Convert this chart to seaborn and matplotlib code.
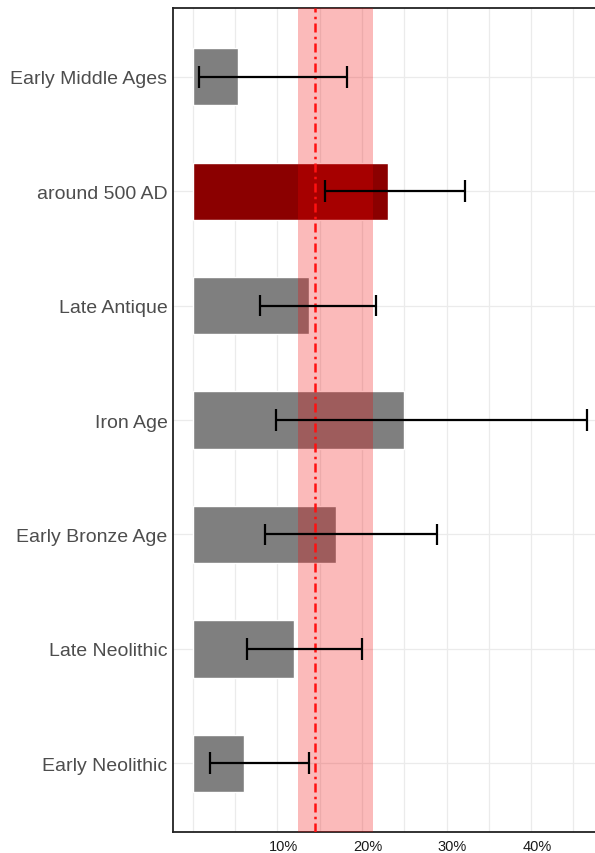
import matplotlib
matplotlib.use("Agg")
import matplotlib.pyplot as plt
import matplotlib.transforms as mtransforms
from matplotlib.ticker import FixedLocator, MultipleLocator
import numpy as np
import pandas as pd
import seaborn as sns

# Periods, top to bottom
periods = ["Early Middle Ages", "around 500 AD", "Late Antique", "Iron Age",
           "Early Bronze Age", "Late Neolithic", "Early Neolithic"]
# Estimated share (%) and its confidence interval
share = [5.4, 23.1, 13.7, 25.0, 16.9, 12.0, 6.1]
ci_low = [0.7, 15.6, 8.0, 9.8, 8.5, 6.4, 2.0]
ci_high = [18.2, 32.2, 21.7, 46.6, 28.9, 20.0, 13.7]
highlight = ["around 500 AD"]

# Reference level and its range
ref_mean = 14.4
ref_low = 12.4
ref_high = 21.3

x_ticks = [0, 10, 20, 30, 40]
x_tick_labels = ["", "10%", "20%", "30%", "40%"]

df = pd.DataFrame({"period": periods, "share": share,
                   "lo": ci_low, "hi": ci_high})
palette = {p: ("#8b0000" if p in highlight else "#7f7f7f") for p in periods}

sns.set_theme(style="white")
plt.rcParams["font.family"] = ["Liberation Sans", "DejaVu Sans"]

fig = plt.figure(figsize=(5.95, 8.54), dpi=100)
W, H = 595, 854
left_px, right_px, top_px, bottom_px = 173, 600, 9, 833
ax = fig.add_axes([left_px / W, 1 - bottom_px / H,
                   (right_px - left_px) / W, (bottom_px - top_px) / H])

sns.barplot(data=df, y="period", x="share", hue="period", palette=palette,
            order=periods, orient="h", width=0.5, legend=False,
            saturation=1, ax=ax, zorder=2, errorbar=None)

# reference range and mean
ax.axvspan(ref_low, ref_high, color="#f20000", alpha=0.27, lw=0, zorder=3)
ax.axvline(ref_mean, color="#ff1010", lw=1.8,
           ls=(0, (3.6, 1.7, 1.0, 1.7)), zorder=4)

# confidence intervals
ypos = np.arange(len(periods))
for y, lo, hi in zip(ypos, df["lo"], df["hi"]):
    ax.plot([lo, hi], [y, y], color="black", lw=1.6, zorder=5,
            solid_capstyle="butt")
    for xv in (lo, hi):
        ax.plot([xv, xv], [y - 0.095, y + 0.095], color="black", lw=1.6,
                zorder=5, solid_capstyle="butt")

ax.set_xlim(-2.33, 48.14)
ax.set_ylim(len(periods) - 1 + 0.6, -0.6)

ax.xaxis.set_major_locator(FixedLocator(x_ticks))
ax.set_xticklabels(x_tick_labels)
ax.xaxis.set_minor_locator(MultipleLocator(5))
ax.grid(True, which="both", axis="x", color="#ebebeb", lw=0.9, zorder=0)
ax.grid(True, which="major", axis="y", color="#ebebeb", lw=0.9, zorder=0)
ax.set_axisbelow(True)

ax.set_xlabel("")
ax.set_ylabel("")
ax.tick_params(axis="y", labelsize=14, labelcolor="#4d4d4d", length=2.5,
               width=0.8, color="#333333", pad=1.5)
ax.tick_params(axis="x", which="major", labelsize=10.5, labelcolor="#1a1a1a",
               length=2.5, width=0.8, color="#bbbbbb", pad=2.5)
ax.tick_params(axis="x", which="minor", length=0)

offset = mtransforms.ScaledTranslation(6 / 100, 0, fig.dpi_scale_trans)
for lab in ax.get_xticklabels():
    lab.set_transform(lab.get_transform() + offset)

for side in ["left", "bottom", "top", "right"]:
    ax.spines[side].set_visible(True)
    ax.spines[side].set_color("#222222")
    ax.spines[side].set_linewidth(1.3)

fig.savefig("out.png", dpi=100)
